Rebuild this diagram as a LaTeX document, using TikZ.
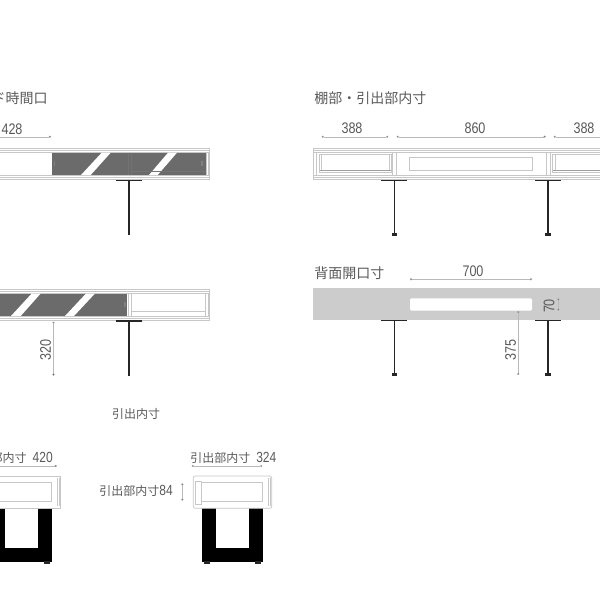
\documentclass[tikz,border=0pt]{standalone}
\usepackage{fontspec}
\setmainfont{Noto Sans CJK JP}
\newfontfamily\numfont[FakeStretch=0.82]{Liberation Sans}
\usepackage{tikz}
\usetikzlibrary{positioning, calc, arrows.meta}
\definecolor{txtgray}{gray}{0.35}
\definecolor{panelgray}{gray}{0.42}
\definecolor{backgray}{gray}{0.8}
\definecolor{boardgray}{gray}{0.78}
\tikzset{
	x=0.75pt,
	y=-0.75pt,
	board/.style={draw=boardgray, line width=0.55pt, fill=white},
	thinline/.style={draw=boardgray, line width=0.55pt},
	darkline/.style={draw=gray!75, line width=0.5pt},
	panel/.style={fill=panelgray},
	stripe/.style={fill=white},
	plate/.style={draw=black!85, line width=0.8pt},
	leg/.style={draw=black!85, line width=1.1pt},
	dim/.style={draw=gray!55, line width=0.25pt, {Circle[length=1.6pt,fill=black!75]}-{Circle[length=1.6pt,fill=black!75]}},
	title/.style={text=txtgray, font=\fontsize{10.5pt}{12pt}\selectfont, inner sep=0pt},
	jplabel/.style={text=txtgray, font=\fontsize{9pt}{11pt}\selectfont, inner sep=0pt},
	numlabel/.style={text=txtgray, font=\numfont\fontsize{11.5pt}{13pt}\selectfont, inner sep=0pt},
}
\begin{document}
\begin{tikzpicture}
			
			\useasboundingbox (0,0) rectangle (600,600);
			\clip (0,0) rectangle (600,600);
			
			\node[title, anchor=east] (SLIDETITLE) at (48,98) {スライド時間口};
			\coordinate (dimA1) at (-20,136.7);
			\coordinate (dimA2) at (51,136.7);
			\draw[dim] (dimA1) -- (dimA2);
			\node[numlabel] (dimA) at (12,129) {428};
			
			\draw[board] (-5,148) rectangle (209.5,179.3);
			\draw[thinline] (-5,150) -- (209.5,150) (-5,152.7) -- (209.5,152.7);
			\draw[thinline] (-5,175) -- (209.5,175) (-5,177) -- (209.5,177);
			\draw[thinline] (206,152.7) -- (206,175) (208,152.7) -- (208,175);
			\fill[panel] (52,152.7) rectangle (206,175);
			\fill[stripe] (81,175) -- (90.7,175) -- (110.7,152.7) -- (101.7,152.7) -- cycle;
			\fill[stripe] (149,175) -- (157.7,175) -- (177,152.7) -- (168,152.7) -- cycle;
			\draw[draw=black!55, line width=1pt] (128.5,152.7) -- (128.5,175);
			\draw[draw=black!55, line width=0.5pt] (131.5,152.7) -- (131.5,175) (131.5,171.7) -- (206,171.7);
			\draw[draw=black!50, line width=1pt] (54.5,161) -- (54.5,166) (202,161) -- (202,166);
			\draw[plate] (116,180.3) -- (142,180.3);
			\draw[leg] (129,180.3) -- (129,235);
			
			\draw[board] (-5,289) rectangle (209.5,320);
			\draw[thinline] (-5,291) -- (209.5,291) (-5,293.5) -- (209.5,293.5);
			\draw[thinline] (-5,316) -- (209.5,316) (-5,318) -- (209.5,318);
			\fill[panel] (-5,293.5) rectangle (127.3,316);
			\fill[stripe] (11,316) -- (20.7,316) -- (40.7,293.5) -- (31.7,293.5) -- cycle;
			\fill[stripe] (65,316) -- (74,316) -- (95,293.5) -- (86,293.5) -- cycle;
			\draw[thinline] (128.5,293.5) -- (128.5,316) (131.7,293.5) -- (131.7,316);
			\draw[thinline] (205.7,293.5) -- (205.7,316) (208,293.5) -- (208,316);
			\draw[thinline] (131.7,311.7) -- (205.7,311.7);
			\draw[draw=black!50, line width=1pt] (125,302) -- (125,307);
			\draw[plate] (116,321) -- (142,321);
			\draw[leg] (129,321) -- (129,376);
			\coordinate (dimB1) at (53.5,321.7);
			\coordinate (dimB2) at (53.5,375.7);
			\draw[dim] (dimB1) -- (dimB2);
			\node[numlabel, rotate=90] (dimB) at (45.5,350) {320};
			
			\node[jplabel] (DRAWERTITLE) at (136,414.3) {引出内寸};
			
			\node[title, anchor=west] (SHELFTITLE) at (314,98) {棚部・引出部内寸};
			\coordinate (dimC1) at (321.7,136.7);
			\coordinate (dimC2) at (388.3,136.7);
			\coordinate (dimD1) at (396.7,136.7);
			\coordinate (dimD2) at (545.7,136.7);
			\coordinate (dimE1) at (553.7,136.7);
			\coordinate (dimE2) at (620,136.7);
			\draw[dim] (dimC1) -- (dimC2);
			\draw[dim] (dimD1) -- (dimD2);
			\draw[dim] (dimE1) -- (dimE2);
			\node[numlabel] (dimC) at (352,128.7) {388};
			\node[numlabel] (dimD) at (475,128.7) {860};
			\node[numlabel] (dimE) at (584,128.7) {388};
			
			\draw[board] (313.3,148) rectangle (610,179.3);
			\draw[thinline] (313.3,150) -- (610,150) (313.3,152.7) -- (610,152.7);
			\draw[thinline] (313.3,175) -- (610,175) (313.3,177) -- (610,177);
			\draw[thinline] (316,152.7) -- (316,175);
			\draw[thinline] (392.7,152.7) -- (392.7,175) (396.7,152.7) -- (396.7,175);
			\draw[thinline] (546.7,152.7) -- (546.7,175) (550.7,152.7) -- (550.7,175);
			\draw[thinline] (319,154) rectangle (391.7,172);
			\draw[thinline] (321.5,154) -- (321.5,170) (389,154) -- (389,170);
			\draw[darkline] (320,170) -- (391,170);
			\draw[thinline] (409.3,157.3) rectangle (532.3,170);
			\draw[thinline] (552.3,154) rectangle (610,172);
			\draw[thinline] (555,154) -- (555,170);
			\draw[darkline] (553,170) -- (610,170);
			\draw[plate] (381,180.3) -- (407.3,180.3);
			\draw[leg] (394.3,180.3) -- (394.3,234);
			\fill[black!85] (391.7,232.5) rectangle (397,235.5);
			\draw[plate] (535,180.3) -- (561,180.3);
			\draw[leg] (548,180.3) -- (548,234);
			\fill[black!85] (545.3,232.5) rectangle (550.7,235.5);
			
			\node[title, anchor=west] (BACKTITLE) at (314,273.5) {背面開口寸};
			\coordinate (dimF1) at (410,279.3);
			\coordinate (dimF2) at (532,279.3);
			\draw[dim] (dimF1) -- (dimF2);
			\node[numlabel] (dimF) at (473,271) {700};
			\fill[backgray] (313.3,288.3) rectangle (610,320);
			\fill[white, rounded corners=1pt] (410,298.3) rectangle (532,310.7);
			\draw[plate] (381,320.7) -- (407.3,320.7);
			\draw[leg] (394.3,320.7) -- (394.3,374);
			\fill[black!85] (391.7,373) rectangle (397,376);
			\draw[plate] (535,320.7) -- (561,320.7);
			\draw[leg] (548,320.7) -- (548,374);
			\fill[black!85] (545.3,373) rectangle (550.7,376);
			\coordinate (dimG1) at (558.3,298.3);
			\coordinate (dimG2) at (558.3,310.7);
			\draw[dim] (dimG1) -- (dimG2);
			\node[numlabel, rotate=90] (dimG) at (549,306) {70};
			\coordinate (dimH1) at (518.3,311);
			\coordinate (dimH2) at (518.3,375);
			\draw[dim] (dimH1) -- (dimH2);
			\node[numlabel, rotate=90] (dimH) at (510.7,350) {375};
			
			\node[jplabel, anchor=east] (FRONTTEXT) at (53,457.5) {引出部内寸 \;\fontsize{11pt}{12pt}\numfont 420};
			\coordinate (dimI1) at (-20,466);
			\coordinate (dimI2) at (56.7,466);
			\draw[dim] (dimI1) -- (dimI2);
			\fill[black] (-5,508.3) rectangle (51.7,561.7);
			\fill[white] (5,508.3) rectangle (37.7,548.3);
			\fill[black!85] (44,561) rectangle (50,564);
			\draw[board] (-5,476) rectangle (60.7,508.3);
			\draw[thinline] (-5,482.7) rectangle (51.7,501.3);
			\draw[thinline] (57.3,478) -- (57.3,506) (59.3,478) -- (59.3,506);
			
			\node[jplabel, anchor=west] (SIDETEXT) at (190,457.5) {引出部内寸 \;\fontsize{11pt}{12pt}\numfont 324};
			\coordinate (dimJ1) at (191.7,466);
			\coordinate (dimJ2) at (262.3,466);
			\draw[dim] (dimJ1) -- (dimJ2);
			\node[jplabel, anchor=east] (HEIGHTTEXT) at (173,490.7) {引出部内寸\fontsize{11pt}{12pt}\numfont 84};
			\coordinate (dimK1) at (182.3,483.3);
			\coordinate (dimK2) at (182.3,500.7);
			\draw[dim] (dimK1) -- (dimK2);
			\fill[black] (201.7,508.3) rectangle (263.3,561.7);
			\fill[white] (216,508.3) rectangle (249.3,548.3);
			\fill[black!85] (204,561) rectangle (210,564);
			\fill[black!85] (255,561) rectangle (261,564);
			\draw[board, rounded corners=1.5pt] (193.3,476) rectangle (271.7,508.3);
			\draw[thinline] (201,482.7) rectangle (262.3,501.3);
			\draw[thinline] (195.5,481) rectangle (201,504);
			\draw[thinline] (268.3,478) -- (268.3,506) (270,478) -- (270,506);
			
		\end{tikzpicture}
\end{document}
